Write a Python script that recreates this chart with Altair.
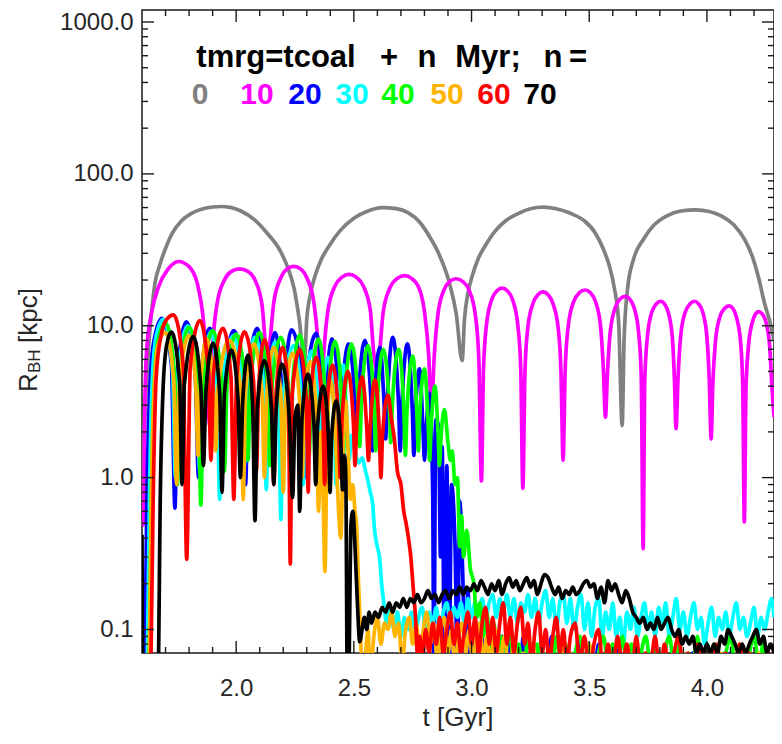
import altair as alt
import pandas as pd

W, H = 632, 643
FONT = "Liberation Sans"
FRAME = "#1a1a1a"
LABEL = "#262626"

T_DOMAIN = [1.6, 4.285]
R_DOMAIN = [0.07, 1200]

X_MAJOR = [2.0, 2.5, 3.0, 3.5, 4.0]
X_MINOR = [1.7, 1.8, 1.9, 2.1, 2.2, 2.3, 2.4, 2.6, 2.7, 2.8, 2.9, 3.1, 3.2, 3.3, 3.4,
           3.6, 3.7, 3.8, 3.9, 4.1, 4.2]
Y_MAJOR = [0.1, 1, 10, 100, 1000]
Y_MINOR = [0.08, 0.09, 0.2, 0.3, 0.4, 0.5, 0.6, 0.7, 0.8, 0.9, 2, 3, 4, 5, 6, 7, 8, 9,
           20, 30, 40, 50, 60, 70, 80, 90, 200, 300, 400, 500, 600, 700, 800, 900]

N_VALUES = ["0", "10", "20", "30", "40", "50", "60", "70"]
COLORS = ["#808080", "#ff00ff", "#0000ff", "#00ffff", "#00ff00", "#ffb400", "#ff0000", "#000000"]

GRAY = [(1.600,0.5),(1.610,2.0),(1.620,4.5),(1.628,7.2),(1.640,12),(1.656,19.4),(1.675,25),(1.699,32),
        (1.730,41),(1.767,49),(1.810,55),(1.860,59),(1.900,60.5),(1.936,61),(1.975,60.2),(2.020,57),
        (2.077,50),(2.130,41),(2.188,31),(2.220,24),(2.246,17.6),(2.268,11),(2.290,5.8),
        (2.300,11),(2.315,16),(2.334,21),(2.360,27),(2.392,33),(2.440,42),(2.500,51),(2.560,57),(2.620,60),
        (2.680,59),(2.730,55.5),(2.780,48),(2.820,39),(2.860,30),(2.904,19.6),(2.935,12),(2.960,5.9),
        (2.970,11),(2.985,16.5),(3.004,21.5),(3.030,28),(3.060,34),(3.100,42),(3.144,49),(3.200,55),(3.250,59),
        (3.305,60.4),(3.360,59),(3.420,55),(3.480,49),(3.525,41),(3.560,32),(3.588,24),(3.607,17.6),(3.625,10.5),
        (3.640,2.2),
        (3.648,8),(3.663,17.6),(3.690,28),(3.730,37),(3.775,46),(3.830,53),(3.890,57),(3.951,58),(4.010,56.5),
        (4.065,52.5),(4.115,46),(4.160,37),(4.195,28),(4.222,20),(4.245,14),(4.265,11),(4.285,8)]

MAGENTA = [(1.600,0.48),(1.606,0.5),(1.612,3.0),(1.620,7.0),(1.640,12.0),(1.670,18.0),(1.710,23.5),(1.755,26.5),
           (1.800,24.5),(1.835,19.0),(1.858,12.0),(1.875,6.0),(1.888,2.2),
           (1.900,7.0),(1.918,13.7),(1.950,20.0),(1.980,22.8),(2.014,23.7),(2.050,22.8),(2.080,20.0),(2.110,13.7),(2.120,9.0),(2.130,5.5),
           (2.142,7.4),(2.160,14.3),(2.190,20.7),(2.215,23.6),(2.245,24.6),(2.275,23.6),(2.300,20.7),(2.330,14.3),(2.348,7.4),(2.360,3.0),
           (2.372,6.5),(2.390,12.6),(2.420,18.3),(2.450,20.9),(2.480,21.8),(2.510,20.9),(2.540,18.3),(2.570,12.6),(2.585,6.5),(2.597,5.2),
           (2.608,6.4),(2.625,12.4),(2.655,18.0),(2.685,20.5),(2.716,21.4),(2.745,20.5),(2.775,18.0),(2.800,12.4),(2.818,6.4),(2.830,2.7),
           (2.841,6.1),(2.857,11.8),(2.882,17.1),(2.908,19.6),(2.934,20.4),(2.962,19.6),(2.990,17.1),(3.016,11.8),(3.031,6.1),(3.042,0.95),
           (3.051,5.3),(3.064,10.3),(3.086,14.9),(3.108,17.0),(3.130,17.7),(3.152,17.0),(3.174,14.9),(3.196,10.3),(3.209,5.3),(3.218,0.85),
           (3.227,5.0),(3.239,9.7),(3.261,14.0),(3.282,16.0),(3.304,16.7),(3.325,16.0),(3.346,14.0),(3.368,9.7),(3.380,5.0),(3.389,1.3),
           (3.398,5.2),(3.411,10.0),(3.434,14.4),(3.458,16.5),(3.483,17.2),(3.505,16.5),(3.527,14.4),(3.548,10.0),(3.560,5.2),(3.569,2.5),
           (3.577,4.7),(3.589,9.0),(3.610,13.1),(3.631,15.0),(3.653,15.6),(3.672,15.0),(3.691,13.1),(3.710,9.0),(3.721,4.7),(3.729,0.34),
           (3.736,4.4),(3.747,8.4),(3.765,12.2),(3.785,13.9),(3.804,14.5),(3.820,13.9),(3.836,12.2),(3.853,8.4),(3.862,4.4),(3.869,2.1),
           (3.877,4.4),(3.888,8.4),(3.907,12.2),(3.928,13.9),(3.948,14.5),(3.965,13.9),(3.983,12.2),(4.000,8.4),(4.010,4.4),(4.018,1.8),
           (4.025,4.1),(4.036,7.8),(4.054,11.3),(4.075,13.0),(4.094,13.5),(4.110,13.0),(4.126,11.3),(4.143,7.8),(4.152,4.1),(4.159,0.51),
           (4.166,3.8),(4.176,7.2),(4.192,10.4),(4.206,11.9),(4.220,12.4),(4.236,11.9),(4.252,10.4),(4.267,7.2),(4.277,3.8),(4.285,2.5)]

BLUE = [(1.612,0.05),(1.620,0.6),(1.632,3.5),(1.648,7.5),
        (1.684,11.2),(1.725,5.5),(1.740,0.63),(1.752,5.3),
        (1.789,10.6),(1.826,4.8),(1.840,1.0),(1.852,4.8),
        (1.888,9.6),(1.926,4.7),(1.940,1.2),(1.952,4.7),
        (1.990,9.3),(2.028,4.8),(2.040,0.9),(2.052,4.8),
        (2.090,9.6),(2.118,4.5),(2.128,1.5),(2.138,4.5),
        (2.165,9.0),(2.190,4.7),(2.200,1.3),(2.210,4.7),
        (2.235,9.4),(2.280,4.5),(2.290,1.0),(2.300,4.5),
        (2.340,8.9),(2.366,3.9),(2.375,1.6),(2.384,3.9),
        (2.407,8.2),(2.434,3.8),(2.443,1.4),(2.452,3.8),
        (2.477,7.6),(2.503,3.6),(2.512,1.7),(2.521,3.7),
        (2.547,8.0),(2.572,3.4),(2.580,1.5),(2.588,3.3),
        (2.610,7.2),(2.628,3.2),(2.635,1.8),(2.642,3.2),
        (2.665,8.4),(2.690,3.0),(2.697,1.5),(2.704,3.0),
        (2.728,7.6),(2.749,2.6),(2.755,1.4),(2.761,2.5),
        (2.779,5.2),(2.795,1.9),(2.800,1.3),(2.806,1.9),
        (2.821,3.6),(2.835,0.8),(2.840,0.05),(2.848,2.4),(2.860,2.2),(2.868,0.3),(2.875,1.6),(2.885,0.05),
        (2.895,1.2),(2.905,0.05),(2.915,0.9),(2.930,0.35),(2.940,0.05),(2.950,0.7),(2.962,0.25),(2.975,0.05),
        (2.985,0.18),(2.995,0.05),
        (3.010,0.09),(3.025,0.05),(3.040,0.1),(3.055,0.06),(3.070,0.08),(3.085,0.05),(3.100,0.1),(3.115,0.06),
        (3.130,0.09),(3.145,0.05),(3.160,0.08),(3.175,0.05),(3.190,0.07),(3.205,0.05),(3.220,0.09),(3.240,0.05),
        (3.260,0.08),(3.280,0.05),(3.300,0.07),(3.320,0.05),(3.340,0.09),(3.360,0.05),(3.380,0.08),(3.400,0.05),
        (3.420,0.07),(3.440,0.05),(3.460,0.08),(3.480,0.05),(3.500,0.06),(3.520,0.05),(3.540,0.08),(3.560,0.05),
        (3.580,0.07),(3.600,0.05),(3.620,0.08),(3.640,0.05),(3.660,0.07),(3.680,0.05),(3.700,0.06),(3.720,0.05),
        (3.740,0.07),(3.760,0.05),(3.780,0.08),(3.800,0.05),(3.820,0.06),(3.840,0.05),(3.860,0.07),(3.880,0.05),
        (3.900,0.06),(3.920,0.05),(3.940,0.07),(3.960,0.05),(3.980,0.06),(4.000,0.05),(4.020,0.07),(4.040,0.05),
        (4.060,0.06),(4.080,0.05),(4.100,0.07),(4.120,0.05),(4.140,0.06),(4.160,0.05),(4.180,0.07),(4.200,0.05),
        (4.220,0.06),(4.240,0.05),(4.260,0.07),(4.285,0.05)]

CYAN = [(1.622,0.05),(1.632,0.8),(1.644,4.5),(1.660,8.5),
        (1.690,11.0),(1.730,5.0),(1.742,1.0),(1.754,5.0),
        (1.795,10.0),(1.833,4.6),(1.845,1.1),(1.857,4.5),
        (1.895,9.2),(1.918,4.3),(1.930,0.72),(1.942,4.2),
        (1.990,8.6),(2.025,4.0),(2.035,1.2),(2.045,4.0),
        (2.080,8.4),(2.118,3.9),(2.128,0.83),(2.138,3.8),
        (2.165,7.8),(2.180,3.5),(2.190,0.53),(2.200,3.5),
        (2.245,7.4),(2.277,3.3),(2.285,0.9),(2.293,3.3),
        (2.320,6.8),(2.348,3.1),(2.356,1.1),(2.364,3.0),
        (2.390,6.2),(2.416,2.9),(2.424,0.9),(2.432,2.8),
        (2.455,5.5),(2.472,2.2),(2.480,1.3),(2.490,1.9),(2.505,1.5),(2.520,1.25),(2.535,1.35),(2.550,1.1),
        (2.560,0.95),(2.570,0.8),(2.580,0.67),(2.588,0.45),(2.600,0.35),(2.610,0.29),(2.618,0.2),(2.625,0.16),
        (2.64,0.11),(2.655,0.14),(2.67,0.1),(2.685,0.13),(2.7,0.09),(2.715,0.12),(2.73,0.1),(2.745,0.13),
        (2.76,0.09),(2.775,0.12),(2.79,0.14),(2.805,0.1),(2.82,0.13),(2.835,0.11),(2.85,0.14),(2.865,0.1),
        (2.88,0.13),(2.895,0.15),(2.91,0.11),(2.925,0.14),(2.94,0.12),(2.955,0.15),(2.97,0.11),(2.985,0.16),
        (3.0,0.12),(3.015,0.15),(3.03,0.13),(3.045,0.16),(3.06,0.12),(3.075,0.15),(3.09,0.17),(3.105,0.12),
        (3.12,0.16),(3.135,0.13),(3.15,0.17),(3.165,0.12),(3.18,0.16),(3.195,0.11),(3.21,0.15),(3.225,0.13),
        (3.24,0.17),(3.255,0.12),(3.27,0.16),(3.285,0.11),(3.3,0.15),(3.315,0.18),(3.33,0.12),(3.345,0.16),
        (3.36,0.1),(3.375,0.15),(3.39,0.17),(3.405,0.11),(3.42,0.16),(3.435,0.1),(3.45,0.14),(3.465,0.17),
        (3.48,0.1),(3.495,0.15),(3.51,0.09),(3.525,0.14),(3.54,0.16),(3.555,0.09),(3.57,0.13),(3.585,0.1),
        (3.6,0.15),(3.615,0.09),(3.63,0.12),(3.645,0.08),(3.66,0.13),(3.675,0.1),(3.69,0.14),(3.705,0.09),
        (3.72,0.12),(3.735,0.15),(3.75,0.1),(3.765,0.13),(3.78,0.09),(3.795,0.14),(3.81,0.11),(3.825,0.15),
        (3.84,0.09),(3.855,0.12),(3.87,0.16),(3.885,0.1),(3.9,0.13),(3.915,0.09),(3.93,0.12),(3.945,0.15),
        (3.96,0.1),(3.975,0.12),(3.99,0.08),(4.005,0.11),(4.02,0.14),(4.035,0.09),(4.05,0.12),(4.065,0.1),
        (4.08,0.13),(4.095,0.09),(4.11,0.12),(4.125,0.15),(4.14,0.1),(4.155,0.12),(4.17,0.09),(4.185,0.11),
        (4.2,0.14),(4.215,0.09),(4.23,0.12),(4.245,0.1),(4.26,0.13),(4.275,0.16),(4.285,0.12)]

GREEN = [(1.630,0.05),(1.640,0.7),(1.652,4.0),(1.668,8.0),
         (1.700,10.5),(1.738,4.9),(1.750,0.9),(1.762,4.8),
         (1.800,9.8),(1.838,4.6),(1.850,0.66),(1.862,4.5),
         (1.900,9.3),(1.938,4.4),(1.950,1.1),(1.962,4.3),
         (2.000,8.8),(2.038,4.3),(2.050,1.3),(2.062,4.4),
         (2.100,9.0),(2.133,4.1),(2.143,1.2),(2.153,4.1),
         (2.190,8.4),(2.220,4.2),(2.230,1.0),(2.240,4.2),
         (2.270,8.7),(2.300,4.0),(2.310,1.4),(2.320,4.0),
         (2.350,8.2),(2.377,3.8),(2.385,1.5),(2.393,3.8),
         (2.420,7.9),(2.447,3.7),(2.455,1.3),(2.463,3.6),
         (2.490,7.6),(2.517,3.4),(2.525,1.6),(2.533,3.4),
         (2.560,7.4),(2.585,3.2),(2.593,1.5),(2.600,3.2),
         (2.625,7.0),(2.650,3.1),(2.657,1.7),(2.664,3.1),
         (2.690,7.0),(2.712,2.9),(2.719,1.4),(2.726,2.8),
         (2.750,6.3),(2.768,2.6),(2.774,1.5),(2.780,2.5),
         (2.800,5.2),(2.816,2.2),(2.822,1.3),(2.828,2.1),
         (2.845,4.0),(2.858,1.9),(2.864,1.2),(2.870,1.8),
         (2.885,2.8),(2.900,1.7),(2.910,1.3),(2.918,1.5),(2.930,0.9),(2.940,1.0),(2.950,0.35),(2.958,0.56),
         (2.966,0.3),(2.980,0.45),(2.995,0.25),(3.010,0.2),(3.022,0.12),
         (3.035,0.15),(3.05,0.09),(3.065,0.13),(3.08,0.07),(3.095,0.11),(3.11,0.06),(3.125,0.09),(3.14,0.06),
         (3.16,0.1),(3.18,0.06),(3.2,0.08),(3.22,0.05),(3.24,0.09),(3.26,0.06),(3.28,0.08),(3.3,0.05),
         (3.32,0.07),(3.34,0.05),(3.36,0.09),(3.38,0.06),(3.4,0.08),(3.42,0.05),(3.44,0.07),(3.46,0.09),
         (3.48,0.06),(3.5,0.08),(3.52,0.05),(3.54,0.07),(3.56,0.09),(3.58,0.06),(3.6,0.08),(3.62,0.05),
         (3.64,0.09),(3.66,0.06),(3.68,0.08),(3.7,0.05),(3.72,0.07),(3.74,0.09),(3.76,0.06),(3.78,0.08),
         (3.8,0.05),(3.82,0.07),(3.84,0.09),(3.86,0.06),(3.88,0.08),(3.9,0.05),(3.92,0.07),(3.94,0.06),
         (3.96,0.09),(3.98,0.05),(4.0,0.08),(4.02,0.06),(4.04,0.08),(4.06,0.05),(4.08,0.07),(4.1,0.09),
         (4.12,0.06),(4.14,0.08),(4.16,0.05),(4.18,0.07),(4.2,0.09),(4.22,0.06),(4.24,0.08),(4.26,0.05),
         (4.285,0.07)]

ORANGE = [(1.630,0.05),(1.640,0.8),(1.652,4.0),(1.668,7.5),
          (1.700,9.0),(1.735,4.3),(1.747,0.9),(1.759,4.2),
          (1.800,8.6),(1.828,4.1),(1.838,1.4),(1.848,4.0),
          (1.875,8.2),(1.903,3.9),(1.913,1.5),(1.923,3.9),
          (1.970,8.0),(2.020,3.8),(2.030,0.72),(2.040,3.7),
          (2.075,7.6),(2.110,3.6),(2.120,1.0),(2.130,3.5),
          (2.160,7.2),(2.190,3.4),(2.200,0.8),(2.210,3.3),
          (2.240,6.6),(2.270,3.1),(2.280,1.0),(2.290,3.0),
          (2.315,5.8),(2.340,2.8),(2.350,0.6),(2.360,2.0),(2.368,1.0),(2.377,0.24),(2.386,1.6),(2.400,4.4),
          (2.420,2.2),(2.430,0.9),(2.445,0.4),(2.455,1.8),(2.465,3.2),(2.475,1.6),(2.485,0.72),(2.495,0.9),
          (2.505,0.6),(2.512,0.48),(2.520,0.2),(2.528,0.1),(2.535,0.05),
          (2.550,0.07),(2.560,0.1),(2.570,0.05),(2.585,0.09),(2.60,0.12),(2.615,0.08),(2.63,0.11),(2.645,0.1),
          (2.66,0.13),(2.675,0.09),(2.69,0.11),(2.705,0.06),(2.72,0.1),(2.735,0.12),(2.75,0.08),(2.765,0.11),
          (2.78,0.07),(2.795,0.1),(2.81,0.13),(2.825,0.08),(2.84,0.11),(2.855,0.06),(2.87,0.1),(2.885,0.12),
          (2.9,0.07),(2.915,0.1),(2.93,0.06),(2.945,0.09),(2.96,0.11),(2.975,0.07),(2.99,0.1),(3.005,0.06),
          (3.02,0.09),(3.035,0.11),(3.05,0.06),(3.065,0.09),(3.08,0.06),(3.1,0.1),(3.12,0.06),(3.14,0.09),
          (3.16,0.05),(3.18,0.08),(3.2,0.05),(3.22,0.07),(3.24,0.05),(3.26,0.08),(3.28,0.05),(3.3,0.07),
          (3.32,0.05),(3.34,0.06),(3.36,0.05),(3.38,0.08),(3.4,0.05),(3.42,0.07),(3.44,0.05),(3.46,0.06),
          (3.48,0.05),(3.5,0.08),(3.52,0.05),(3.54,0.06),(3.56,0.05),(3.58,0.07),(3.6,0.05),(3.62,0.06),
          (3.64,0.05),(3.66,0.08),(3.68,0.05),(3.7,0.06),(3.72,0.05),(3.74,0.07),(3.76,0.05),(3.78,0.06),
          (3.8,0.05),(3.82,0.08),(3.84,0.05),(3.86,0.06),(3.88,0.05),(3.9,0.07),(3.92,0.05),(3.94,0.06),
          (3.96,0.05),(3.98,0.07),(4.0,0.05),(4.02,0.06),(4.04,0.05),(4.06,0.07),(4.08,0.05),(4.1,0.06),
          (4.12,0.05),(4.14,0.07),(4.16,0.05),(4.18,0.06),(4.2,0.05),(4.22,0.07),(4.24,0.05),(4.26,0.06),
          (4.285,0.05)]

RED = [(1.637,0.05),(1.648,0.8),(1.660,4.5),(1.680,8.5),(1.705,11.0),
       (1.734,11.8),(1.775,5.5),(1.790,0.29),(1.805,5.4),
       (1.846,10.8),(1.882,5.0),(1.893,1.3),(1.904,4.9),
       (1.944,9.6),(1.978,4.6),(1.990,0.72),(2.002,4.5),
       (2.035,9.1),(2.074,4.3),(2.086,1.1),(2.096,4.1),
       (2.120,8.1),(2.150,3.9),(2.160,0.9),(2.170,3.7),
       (2.197,7.2),(2.222,3.5),(2.230,0.27),(2.238,3.5),
       (2.270,7.0),(2.298,3.2),(2.306,0.8),(2.314,3.1),
       (2.340,6.2),(2.368,2.9),(2.376,0.9),(2.384,2.8),
       (2.410,5.5),(2.434,2.6),(2.442,1.0),(2.450,2.5),
       (2.475,5.0),(2.498,2.3),(2.505,1.2),(2.512,2.2),
       (2.535,4.6),(2.555,2.1),(2.562,1.3),(2.569,2.1),
       (2.590,4.4),(2.608,2.0),(2.615,1.0),(2.622,1.9),
       (2.645,3.5),(2.660,2.4),(2.672,1.8),(2.685,1.1),(2.700,0.9),(2.712,0.6),(2.722,0.5),(2.732,0.4),
       (2.742,0.3),(2.752,0.19),(2.762,0.12),(2.770,0.07),
       (2.78,0.09),(2.79,0.06),(2.805,0.1),(2.82,0.07),(2.835,0.11),(2.85,0.08),(2.865,0.12),(2.88,0.07),
       (2.895,0.1),(2.91,0.13),(2.925,0.08),(2.94,0.11),(2.955,0.07),(2.97,0.1),(2.985,0.13),(3.0,0.08),
       (3.015,0.12),(3.03,0.07),(3.045,0.11),(3.06,0.14),(3.075,0.08),(3.09,0.12),(3.105,0.07),(3.12,0.11),
       (3.135,0.15),(3.15,0.08),(3.165,0.12),(3.18,0.07),(3.195,0.11),(3.21,0.14),(3.225,0.08),(3.24,0.11),
       (3.255,0.06),(3.27,0.1),(3.285,0.13),(3.3,0.07),(3.315,0.1),(3.33,0.06),(3.345,0.09),(3.36,0.12),
       (3.375,0.07),(3.39,0.1),(3.405,0.06),(3.42,0.09),(3.44,0.11),(3.46,0.06),(3.48,0.09),(3.5,0.05),
       (3.52,0.08),(3.54,0.1),(3.56,0.05),(3.58,0.08),(3.6,0.05),(3.62,0.09),(3.64,0.06),(3.66,0.08),
       (3.68,0.05),(3.7,0.09),(3.72,0.05),(3.74,0.07),(3.76,0.06),(3.78,0.09),(3.8,0.05),(3.82,0.08),
       (3.84,0.05),(3.86,0.07),(3.88,0.09),(3.9,0.05),(3.92,0.07),(3.94,0.05),(3.96,0.08),(3.98,0.05),
       (4.0,0.07),(4.02,0.05),(4.04,0.08),(4.06,0.05),(4.08,0.07),(4.1,0.05),(4.12,0.06),(4.14,0.08),
       (4.16,0.05),(4.18,0.07),(4.2,0.05),(4.22,0.06),(4.24,0.05),(4.26,0.07),(4.285,0.05)]

BLACK = [(1.600,0.42),(1.603,0.05),(1.668,0.05),(1.678,0.8),(1.690,4.0),(1.705,7.5),
         (1.725,9.1),(1.760,4.2),(1.770,0.9),(1.780,4.1),
         (1.818,8.5),(1.850,3.9),(1.861,1.2),(1.872,3.8),
         (1.902,7.7),(1.930,3.6),(1.940,0.8),(1.950,3.5),
         (1.980,6.9),(2.008,3.3),(2.018,1.0),(2.028,3.2),
         (2.050,6.4),(2.070,3.0),(2.080,0.52),(2.090,2.9),
         (2.120,5.9),(2.150,2.8),(2.160,0.9),(2.170,2.8),
         (2.195,5.6),(2.225,2.6),(2.240,0.74),(2.250,2.5),
         (2.262,3.0),(2.270,0.6),(2.280,2.5),
         (2.305,4.8),(2.330,2.3),(2.338,0.9),(2.346,2.2),
         (2.370,4.0),(2.392,1.9),(2.399,0.8),(2.406,1.9),
         (2.425,3.2),(2.445,1.6),(2.452,0.83),(2.460,1.4),(2.466,1.0),(2.472,0.05),
         (2.478,0.05),(2.488,0.5),(2.496,0.6),(2.505,0.35),(2.515,0.15),(2.525,0.083),(2.535,0.1),
         (2.545,0.12),(2.555,0.1),(2.565,0.13),(2.575,0.11),(2.59,0.13),(2.605,0.12),(2.62,0.14),(2.635,0.13),
         (2.65,0.15),(2.665,0.13),(2.68,0.15),(2.695,0.14),(2.71,0.16),(2.725,0.14),(2.74,0.16),(2.755,0.15),
         (2.77,0.17),(2.785,0.15),(2.8,0.16),(2.815,0.18),(2.83,0.16),(2.845,0.17),(2.86,0.15),(2.875,0.17),
         (2.89,0.18),(2.905,0.16),(2.92,0.18),(2.935,0.17),(2.95,0.19),(2.965,0.17),(2.98,0.19),(2.995,0.18),
         (3.01,0.2),(3.025,0.18),(3.04,0.21),(3.055,0.19),(3.07,0.17),(3.085,0.2),(3.1,0.18),(3.115,0.21),
         (3.13,0.17),(3.145,0.2),(3.16,0.22),(3.175,0.19),(3.19,0.21),(3.205,0.18),(3.22,0.2),(3.235,0.22),
         (3.25,0.19),(3.265,0.21),(3.28,0.17),(3.295,0.2),(3.31,0.23),(3.325,0.22),(3.34,0.19),(3.355,0.17),
         (3.37,0.19),(3.385,0.16),(3.4,0.18),(3.415,0.17),(3.43,0.19),(3.445,0.17),(3.46,0.18),(3.475,0.2),
         (3.49,0.21),(3.505,0.19),(3.52,0.2),(3.535,0.16),(3.55,0.19),(3.565,0.15),(3.58,0.21),(3.595,0.18),
         (3.61,0.2),(3.625,0.17),(3.64,0.15),(3.655,0.18),(3.67,0.16),(3.685,0.13),(3.7,0.12),(3.715,0.11),
         (3.73,0.12),(3.745,0.1),(3.76,0.11),(3.775,0.1),(3.79,0.12),(3.805,0.1),(3.82,0.11),(3.835,0.12),
         (3.85,0.1),(3.865,0.09),(3.88,0.1),(3.895,0.08),(3.91,0.09),(3.925,0.08),(3.94,0.09),(3.955,0.07),
         (3.97,0.08),(3.985,0.07),(4.0,0.08),(4.015,0.07),(4.03,0.08),(4.045,0.07),(4.06,0.09),(4.075,0.08),
         (4.09,0.1),(4.105,0.09),(4.12,0.08),(4.135,0.07),(4.15,0.08),(4.165,0.07),(4.18,0.08),(4.195,0.09),
         (4.21,0.1),(4.225,0.08),(4.24,0.09),(4.255,0.07),(4.27,0.08),(4.285,0.07)]

SERIES = [GRAY, MAGENTA, BLUE, CYAN, GREEN, ORANGE, RED, BLACK]

LEGEND_LINE1 = ["tmrg=tcoal", "+", "n", "Myr;", "n", "="]
LEGEND_LINE1_X = [134, 247, 285, 346, 411, 436]
LEGEND_LINE2_X = [58, 115, 163, 210, 256, 305, 352, 398]

xs = alt.Scale(domain=T_DOMAIN, nice=False, zero=False)
ys = alt.Scale(type="log", domain=R_DOMAIN, nice=False)

x_axis = alt.Axis(values=X_MAJOR, format=".1f", ticks=False, domain=False, grid=False,
                  labelFont=FONT, labelFontSize=24, labelColor=LABEL, labelPadding=23, title=None)
y_axis = alt.Axis(values=Y_MAJOR, format=".1f", ticks=False, domain=False, grid=False,
                  labelFont=FONT, labelFontSize=24, labelColor=LABEL, labelPadding=9, title=None)

layers = []
for pts, col in zip(SERIES, COLORS):
    df = pd.DataFrame(pts, columns=["t", "r"])
    layers.append(
        alt.Chart(df).mark_line(color=col, strokeWidth=3.7, clip=True, interpolate="monotone",
                                strokeJoin="round").encode(
            x=alt.X("t:Q", scale=xs, axis=x_axis),
            y=alt.Y("r:Q", scale=ys, axis=y_axis),
        )
    )


def yticks(vals, length, right):
    x0 = W - length if right else 0
    return alt.Chart(pd.DataFrame({"v": vals})).mark_rule(color=FRAME, strokeWidth=1.4).encode(
        y=alt.Y("v:Q", scale=ys, axis=y_axis), x=alt.value(x0), x2=alt.value(x0 + length))


def xticks(vals, length, top):
    y0 = 0 if top else H - length
    return alt.Chart(pd.DataFrame({"v": vals})).mark_rule(color=FRAME, strokeWidth=1.4).encode(
        x=alt.X("v:Q", scale=xs, axis=x_axis), y=alt.value(y0), y2=alt.value(y0 + length))


for side in (False, True):
    layers.append(yticks(Y_MAJOR, 12, side))
    layers.append(yticks(Y_MINOR, 6, side))
    layers.append(xticks(X_MAJOR, 12, side))
    layers.append(xticks(X_MINOR, 6, side))

leg1 = pd.DataFrame({"label": LEGEND_LINE1, "px": LEGEND_LINE1_X})
layers.append(
    alt.Chart(leg1).mark_text(font=FONT, fontSize=31, fontWeight="bold", color="#000000",
                              align="center", baseline="alphabetic").encode(
        x=alt.X("px:Q", scale=None), y=alt.value(57), text="label:N")
)
leg2 = pd.DataFrame({"label": N_VALUES, "px": LEGEND_LINE2_X, "col": COLORS})
layers.append(
    alt.Chart(leg2).mark_text(font=FONT, fontSize=30, fontWeight="bold",
                              align="center", baseline="alphabetic").encode(
        x=alt.X("px:Q", scale=None), y=alt.value(94), text="label:N",
        color=alt.Color("col:N", scale=None))
)

# y-axis title with subscript
ytitle = pd.DataFrame({"label": ["R", "BH", "[kpc]"], "px": [-105, -102, -105],
                       "py": [382, 363, 333], "fs": [26, 17, 26]})
layers.append(
    alt.Chart(ytitle).mark_text(font=FONT, color=LABEL, angle=270, align="left",
                                baseline="alphabetic").encode(
        x=alt.X("px:Q", scale=None), y=alt.Y("py:Q", scale=None), text="label:N",
        size=alt.Size("fs:Q", scale=None, legend=None))
)
layers.append(
    alt.Chart(pd.DataFrame({"label": ["t [Gyr]"]})).mark_text(
        font=FONT, fontSize=26, color=LABEL, align="center", baseline="alphabetic").encode(
        x=alt.value(W / 2), y=alt.value(716), text="label:N")
)

chart = alt.layer(*layers).properties(
    width=W, height=H,
    padding={"left": 134, "top": 2, "right": 0, "bottom": 78},
    autosize=alt.AutoSizeParams(type="none"),
).configure_view(stroke=FRAME, strokeWidth=1.5)

chart.save("out.html", embed_options={"renderer": "svg", "actions": False})
